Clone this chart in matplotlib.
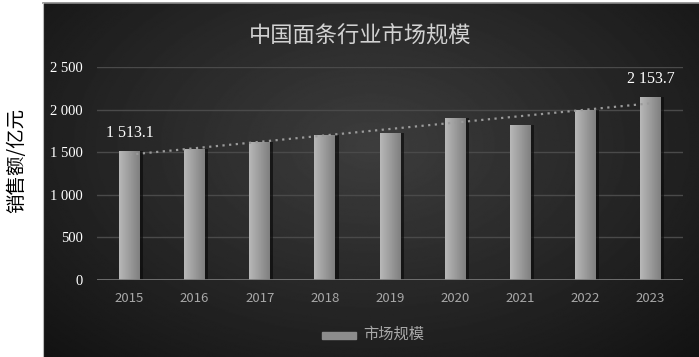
import numpy as np
import matplotlib.pyplot as plt
from matplotlib.patches import Rectangle

plt.rcParams['font.family'] = ['Noto Sans CJK SC', 'DejaVu Sans']

years = ['2015', '2016', '2017', '2018', '2019', '2020', '2021', '2022', '2023']
values = [1513.1, 1535, 1620, 1700, 1725, 1900, 1815, 1990, 2153.7]
yticks = [0, 500, 1000, 1500, 2000, 2500]
ytick_labels = ['0', '500', '1 000', '1 500', '2 000', '2 500']
title = '中国面条行业市场规模'
series_name = '市场规模'
ylabel = '销售额/亿元'

W, H = 699, 357
fig = plt.figure(figsize=(W / 100, H / 100), dpi=100)
fig.patch.set_facecolor('white')

# dark panel with radial gradient
bg = fig.add_axes([43 / W, 0, 1 - 43 / W, 1 - 3 / H], zorder=-2)
yy, xx = np.mgrid[-1:1:300j, -1:1:600j]
r = np.sqrt((xx / 1.1) ** 2 + (yy / 1.3 + 0.15) ** 2)
img = np.clip(0.24 - 0.13 * r, 0.07, 0.24)
bg.imshow(img, cmap='gray', vmin=0, vmax=1, aspect='auto', extent=[0, 1, 0, 1])
bg.set_xlim(0, 1)
bg.set_ylim(0, 1)
bg.axis('off')
fig.add_artist(plt.Line2D([43 / W, 1], [1 - 3 / H, 1 - 3 / H], color='#8a8a8a', lw=1.2))
fig.add_artist(plt.Line2D([43 / W, 43 / W], [0, 1 - 3 / H], color='#bbbbbb', lw=0.8))

ax = fig.add_axes([97 / W, (H - 280) / H, (683 - 97) / W, (280 - 67) / H])
ax.set_facecolor('none')
x = np.arange(len(years))
bw = 0.32

# shadows
ax.bar(x + 0.05, values, width=bw, color='#0c0c0c', alpha=0.7, zorder=2)
bars = ax.bar(x, values, width=bw, color='#999999', zorder=3)
grad = np.linspace(0.72, 0.5, 50).reshape(1, -1)
for b in bars:
    im = ax.imshow(grad, cmap='gray', vmin=0, vmax=1, aspect='auto', zorder=4,
                   extent=[b.get_x(), b.get_x() + b.get_width(), 0, b.get_height()])
    im.set_clip_path(b)

# trend line
k, c = np.polyfit(x, values, 1)
ax.plot(x, k * x + c, linestyle=(0, (1, 2)), color='#9a9a9a', lw=1.6, zorder=5)

ax.set_xlim(-0.5, len(years) - 0.5)
ax.set_ylim(0, 2500)
ax.set_yticks(yticks)
ax.set_yticklabels(ytick_labels, family='Liberation Serif', fontsize=10.5, color='white')
ax.set_xticks(x)
ax.set_xticklabels(years, fontsize=9.5, color='#a8a8a8')
ax.tick_params(length=0)
ax.tick_params(axis='y', pad=10)
ax.tick_params(axis='x', pad=9)
for s in ax.spines.values():
    s.set_visible(False)
ax.grid(axis='y', color='#4a4a4a', lw=1)
ax.set_axisbelow(True)
ax.axhline(0, color='#7a7a7a', lw=1.2, zorder=6)

for i in (0, len(values) - 1):
    ax.annotate(f'{values[i]:,.1f}'.replace(',', ' '), (x[i], values[i]),
                xytext=(0, 10), textcoords='offset points', ha='center',
                family='Liberation Serif', fontsize=11.5, color='white')

fig.text(360 / W, 1 - 35 / H, title, ha='center', va='center', fontsize=16, color='#d2d2d2')
fig.text(17 / W, 1 - 160 / H, ylabel, ha='center', va='center', rotation=90,
         fontsize=14, color='black')

# legend
lx0, ly0 = 322 / W, 1 - 339 / H
fig.add_artist(Rectangle((lx0, ly0), 34 / W, 7 / H, transform=fig.transFigure,
                         color='#8c8c8c'))
fig.text(363 / W, 1 - 334 / H, series_name, ha='left', va='center', fontsize=11, color='#a8a8a8')

plt.savefig('out.png', dpi=100)
